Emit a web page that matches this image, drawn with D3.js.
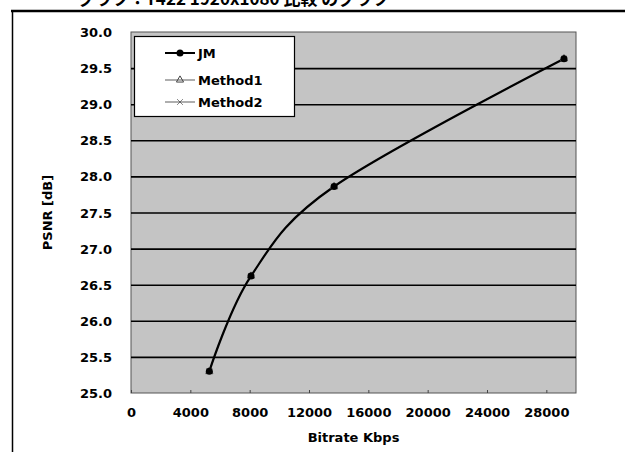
<!DOCTYPE html>
<html>
<head>
<meta charset="utf-8">
<script src="https://cdn.jsdelivr.net/npm/d3@7"></script>
<style>
  body { margin: 0; background: #fff; }
  svg { display: block; }
  text { font-family: "DejaVu Sans", "Liberation Sans", Arial, sans-serif; font-weight: bold; fill: #000; }
</style>
</head>
<body>
<script>
// values
var bitrate = [5280, 8090, 13690, 29190];
var psnrJM = [25.30, 26.62, 27.86, 29.63];
var psnrMethod1 = [25.30, 26.62, 27.86, 29.63];
var psnrMethod2 = [25.30, 26.62, 27.86, 29.63];
var seriesNames = ["JM", "Method1", "Method2"];
var xTicks = [0, 4000, 8000, 12000, 16000, 20000, 24000, 28000];
var yTicks = [25.0, 25.5, 26.0, 26.5, 27.0, 27.5, 28.0, 28.5, 29.0, 29.5, 30.0];

var width = 625, height = 452;
var margin = {top: 32, right: 49, bottom: 59, left: 131};
var w = width - margin.left - margin.right,
    h = height - margin.top - margin.bottom;

var svg = d3.select("body").append("svg")
    .attr("width", width)
    .attr("height", height);

// cut-off caption from the scanned page (only its lower part is on the scan)
svg.append("text")
    .attr("x", 78)
    .attr("y", 5)
    .style("font-size", "17px")
    .style("font-family", "'Noto Sans CJK JP', sans-serif")
    .text("グラフ：Y422 1920x1080 比較 のグラフ");

// outer frame
svg.append("line")
    .attr("x1", 11).attr("x2", width)
    .attr("y1", 11).attr("y2", 11)
    .attr("stroke", "#000").attr("stroke-width", 2.5);
svg.append("line")
    .attr("x1", 12.5).attr("x2", 12.5)
    .attr("y1", 11).attr("y2", height)
    .attr("stroke", "#000").attr("stroke-width", 1.5);

var g = svg.append("g")
    .attr("transform", "translate(" + margin.left + "," + margin.top + ")");

var x = d3.scaleLinear().domain([0, 30000]).range([0, w]);
var y = d3.scaleLinear().domain([25, 30]).range([h, 0]);

// plot area (halftone gray on the scan)
g.append("rect")
    .attr("width", w).attr("height", h)
    .attr("fill", "#c4c4c4")
    .attr("stroke", "#555").attr("stroke-width", 1);

// horizontal grid
g.append("g")
    .attr("class", "grid")
    .call(d3.axisLeft(y).tickValues(yTicks).tickSize(-w).tickFormat(""))
    .call(function(s) {
        s.select(".domain").remove();
        s.selectAll("line").attr("stroke", "#000").attr("stroke-width", 1.6);
        s.selectAll(".tick").filter(function(d) { return d === 25 || d === 30; }).remove();
    });

// y axis labels
g.append("g")
    .call(d3.axisLeft(y).tickValues(yTicks).tickSize(0).tickPadding(19).tickFormat(d3.format(".1f")))
    .call(function(s) {
        s.select(".domain").remove();
        s.selectAll("text").style("font-size", "13px").attr("dy", "0.35em");
    });

// x axis
g.append("g")
    .attr("transform", "translate(0," + h + ")")
    .call(d3.axisBottom(x).tickValues(xTicks).tickSizeInner(-3).tickSizeOuter(0).tickPadding(15).tickFormat(d3.format("d")))
    .call(function(s) {
        s.select(".domain").remove();
        s.selectAll("line").attr("stroke", "#444");
        s.selectAll("text").style("font-size", "13px");
    });

g.append("text")
    .attr("x", w / 2)
    .attr("y", h + 49)
    .attr("text-anchor", "middle")
    .style("font-size", "13px")
    .text("Bitrate Kbps");

g.append("text")
    .attr("transform", "translate(" + (47 - margin.left) + "," + (h / 2) + ") rotate(-90)")
    .attr("text-anchor", "middle")
    .attr("dy", "0.35em")
    .style("font-size", "13px")
    .text("PSNR [dB]");

// series
var line = d3.line()
    .x(function(d) { return x(d[0]); })
    .y(function(d) { return y(d[1]); })
    .curve(d3.curveCatmullRom.alpha(0));

function pairs(vals) { return bitrate.map(function(b, i) { return [b, vals[i]]; }); }

var sets = [
    {name: seriesNames[0], data: pairs(psnrJM), color: "#000", sw: 2.2},
    {name: seriesNames[1], data: pairs(psnrMethod1), color: "#555", sw: 1},
    {name: seriesNames[2], data: pairs(psnrMethod2), color: "#555", sw: 1}
];

sets.slice().reverse().forEach(function(s) {
    g.append("path")
        .datum(s.data)
        .attr("fill", "none")
        .attr("stroke", s.color)
        .attr("stroke-width", s.sw)
        .attr("d", line);
});

function marker(sel, i, cx, cy) {
    if (i === 0) {
        sel.append("circle").attr("cx", cx).attr("cy", cy).attr("r", 3.5).attr("fill", "#000");
    } else if (i === 1) {
        sel.append("path")
            .attr("d", d3.symbol().type(d3.symbolTriangle).size(22)())
            .attr("transform", "translate(" + cx + "," + cy + ")")
            .attr("fill", "none").attr("stroke", "#444").attr("stroke-width", 1);
    } else {
        sel.append("path")
            .attr("d", d3.symbol().type(d3.symbolTimes).size(24)())
            .attr("transform", "translate(" + cx + "," + cy + ")")
            .attr("fill", "#333").attr("stroke", "#333").attr("stroke-width", 0.6);
    }
}

sets.slice().reverse().forEach(function(s, k) {
    var i = 2 - k;
    var mg = g.append("g");
    s.data.forEach(function(d) { marker(mg, i, x(d[0]), y(d[1])); });
});

// legend
var lg = svg.append("g");
lg.append("rect")
    .attr("x", 134.5).attr("y", 36.5)
    .attr("width", 160).attr("height", 80)
    .attr("fill", "#fff")
    .attr("stroke", "#000").attr("stroke-width", 1.2);

var legY = [53, 80, 102];
sets.forEach(function(s, i) {
    lg.append("line")
        .attr("x1", 165).attr("x2", 195)
        .attr("y1", legY[i]).attr("y2", legY[i])
        .attr("stroke", i === 0 ? "#000" : "#777")
        .attr("stroke-width", i === 0 ? 2 : 1.2);
    marker(lg, i, 180, legY[i]);
    lg.append("text")
        .attr("x", 198)
        .attr("y", legY[i])
        .attr("dy", "0.35em")
        .style("font-size", "13px")
        .text(s.name);
});
</script>
</body>
</html>
